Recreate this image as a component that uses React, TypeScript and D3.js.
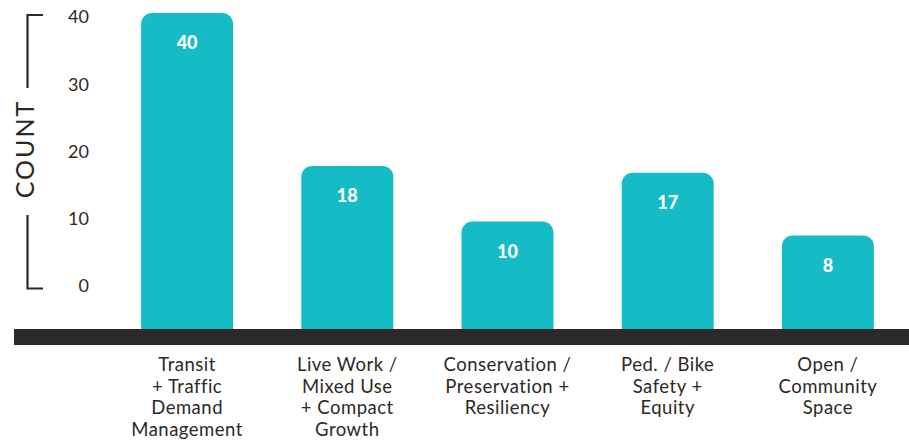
import React from "react";
import * as d3 from "d3";

const categories = [
  ["Transit", "+ Traffic", "Demand", "Management"],
  ["Live Work /", "Mixed Use", "+ Compact", "Growth"],
  ["Conservation /", "Preservation +", "Resiliency"],
  ["Ped. / Bike", "Safety +", "Equity"],
  ["Open /", "Community", "Space"],
];
const counts = [40, 18, 10, 17, 8];
const tickValues = [0, 10, 20, 30, 40];

const W = 909;
const H = 442;
const TEAL = "#16bcc5";
const DARK = "#2d2927";
const FONT = "Lato, 'Open Sans', sans-serif";

export default function App() {
  const x = d3
    .scaleBand<number>()
    .domain(d3.range(counts.length))
    .range([107, 908])
    .paddingInner(0.426)
    .paddingOuter(0.213);
  const yBar = d3.scaleLinear().domain([0, 40]).range([291, 13]);
  const yAxis = d3.scaleLinear().domain([0, 40]).range([286, 17]);
  const baseTop = 329;
  const baseBottom = 345;
  const r = 11;

  const barPath = (x0: number, w: number, top: number, bottom: number) => {
    const p = d3.path();
    p.moveTo(x0, bottom);
    p.lineTo(x0, top + r);
    p.arcTo(x0, top, x0 + r, top, r);
    p.lineTo(x0 + w - r, top);
    p.arcTo(x0 + w, top, x0 + w, top + r, r);
    p.lineTo(x0 + w, bottom);
    p.closePath();
    return p.toString();
  };

  return (
    <svg
      width={W}
      height={H}
      style={{ position: "absolute", left: 0, top: 0, background: "#fff" }}
    >
      <path d={`M43,15 H27.5 V88`} fill="none" stroke={DARK} strokeWidth={2.2} />
      <path d={`M27.5,215 V288.5 H43`} fill="none" stroke={DARK} strokeWidth={2.2} />
      <text
        transform={`translate(33.5,149) rotate(-90)`}
        textAnchor="middle"
        fontFamily={FONT}
        fontSize={25}
        fill={DARK}
        letterSpacing={2}
      >
        COUNT
      </text>
      {tickValues.map((t) => (
        <text
          key={t}
          x={89}
          y={yAxis(t)}
          dy="0.35em"
          textAnchor="end"
          fontFamily={FONT}
          fontSize={18}
          fill={DARK}
        >
          {t}
        </text>
      ))}
      {counts.map((c, i) => {
        const bx = x(i)!;
        const bw = x.bandwidth();
        const top = yBar(c);
        return (
          <g key={i}>
            <path d={barPath(bx, bw, top, baseTop + 1)} fill={TEAL} />
            <text
              x={bx + bw / 2}
              y={top + 30}
              dy="0.35em"
              textAnchor="middle"
              fontFamily={FONT}
              fontWeight={900}
              fontSize={18}
              fill="#fff"
            >
              {c}
            </text>
            {categories[i].map((line, j) => (
              <text
                key={j}
                x={bx + bw / 2}
                y={365 + j * 21.5}
                dy="0.35em"
                textAnchor="middle"
                fontFamily={FONT}
                fontSize={18.5}
                letterSpacing={0.5}
                fill={DARK}
              >
                {line}
              </text>
            ))}
          </g>
        );
      })}
      <rect x={14} y={baseTop} width={W - 14} height={baseBottom - baseTop} fill={DARK} />
    </svg>
  );
}
